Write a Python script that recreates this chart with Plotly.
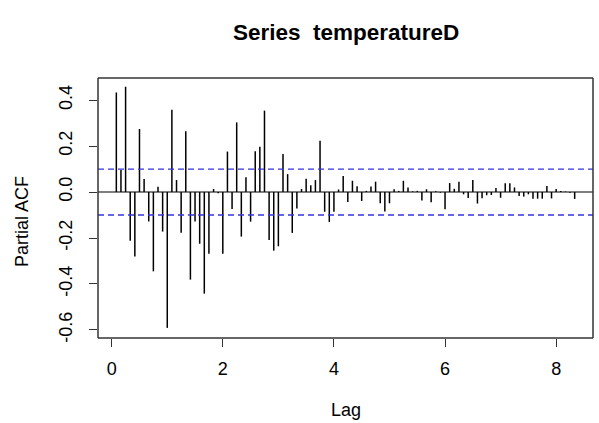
import plotly.graph_objects as go

# PACF values for lags 1..100 (frequency 12 -> lag = k/12)
lag_index = list(range(1, 101))
pacf_values = [
    0.433, 0.096, 0.458, -0.212, -0.280, 0.274, 0.057, -0.128, -0.345, 0.023,
    -0.172, -0.591, 0.358, 0.052, -0.177, 0.264, -0.381, -0.128, -0.225, -0.442,
    -0.268, 0.013, -0.005, -0.268, 0.176, -0.074, 0.303, -0.194, 0.064, -0.129,
    0.177, 0.197, 0.354, -0.209, -0.255, -0.236, 0.165, 0.078, -0.178, -0.072,
    0.013, 0.058, 0.029, 0.052, 0.223, -0.086, -0.130, -0.086, 0.011, 0.070,
    -0.043, 0.049, 0.025, -0.039, 0.005, 0.024, 0.045, -0.049, -0.085, -0.049,
    0.012, 0.005, 0.049, 0.020, 0.003, 0.005, -0.037, 0.012, -0.045, 0.003,
    -0.003, -0.075, 0.039, 0.014, 0.045, -0.010, -0.026, 0.052, -0.050, -0.027,
    -0.014, -0.013, 0.018, -0.025, 0.038, 0.038, 0.020, -0.017, -0.020, -0.010,
    -0.029, -0.029, -0.029, 0.026, -0.028, 0.013, 0.004, 0.002, -0.003, -0.030,
]
frequency = 12
conf_limit = 0.1
x_ticks = [0, 2, 4, 6, 8]
y_ticks = [-0.6, -0.4, -0.2, 0.0, 0.2, 0.4]
y_tick_text = ["-0.6", "-0.4", "-0.2", "0.0", "0.2", "0.4"]
title_text = "Series  temperatureD"
x_title = "Lag"
y_title = "Partial ACF"

lags = [k / frequency for k in lag_index]

xs, ys = [], []
for lg, v in zip(lags, pacf_values):
    xs += [lg, lg, None]
    ys += [0, v, None]

W, H = 599, 423
L, R, T, B = 98, 6, 78, 85

fig = go.Figure()
fig.add_trace(go.Scatter(x=xs, y=ys, mode="lines",
                         line=dict(color="black", width=1.5),
                         hoverinfo="skip", showlegend=False))

xmin = lags[0] - 0.04 * (lags[-1] - lags[0])
xmax = lags[-1] + 0.04 * (lags[-1] - lags[0])
ymin, ymax = -0.635, 0.496

fig.add_shape(type="line", xref="paper", x0=0, x1=1, y0=0, y1=0,
              line=dict(color="black", width=1.2))
for c in (conf_limit, -conf_limit):
    fig.add_shape(type="line", xref="paper", x0=0, x1=1, y0=c, y1=c,
                  line=dict(color="#3333dd", width=1.3, dash="6px,4px"))
# plot frame
for (x0, y0, x1, y1) in [(0, 0, 1, 0), (0, 1, 1, 1), (0, 0, 0, 1), (1, 0, 1, 1)]:
    fig.add_shape(type="line", xref="paper", yref="paper", x0=x0, y0=y0, x1=x1, y1=y1,
                  line=dict(color="#333333", width=1.5), layer="above")

font_family = "Liberation Sans, Arial, sans-serif"
pw = W - L - R
ph = H - T - B

fig.add_annotation(text="<b>" + title_text + "</b>", xref="paper", yref="paper",
                   x=0.5, y=1 + (T - 33) / ph, xanchor="center", yanchor="middle",
                   showarrow=False, font=dict(size=22.5, family=font_family, color="black"))
fig.add_annotation(text=x_title, xref="paper", yref="paper",
                   x=0.5, y=-(410 - (T + ph)) / ph, xanchor="center", yanchor="middle",
                   showarrow=False, font=dict(size=18, family=font_family, color="black"))
fig.add_annotation(text=y_title, xref="paper", yref="paper",
                   x=-(L - 22) / pw, y=0.5 + ((T + ph / 2) - 222) / ph,
                   xanchor="center", yanchor="middle", textangle=-90,
                   showarrow=False, font=dict(size=18, family=font_family, color="black"))

fig.update_layout(
    width=W, height=H,
    margin=dict(l=L, r=R, t=T, b=B, autoexpand=False),
    paper_bgcolor="white", plot_bgcolor="white",
    font=dict(family=font_family, size=18, color="black"),
    xaxis=dict(range=[xmin, xmax], tickvals=x_ticks, ticks="outside",
               ticklen=8, tickcolor="#333333", tickwidth=1.3, showline=False,
               showgrid=False, zeroline=False, automargin=False,
               ticklabelstandoff=6, tickfont=dict(size=18)),
    yaxis=dict(range=[ymin, ymax], tickvals=y_ticks, ticktext=y_tick_text,
               ticks="outside", ticklen=8, tickcolor="#333333", tickwidth=1.3,
               showline=False, showgrid=False, automargin=False,
               zeroline=False, tickangle=-90, ticklabelstandoff=10,
               tickfont=dict(size=18)),
)

fig.write_html("out.html", config={"displayModeBar": False},
               post_script="document.body.style.margin='0';document.body.style.padding='0';")
